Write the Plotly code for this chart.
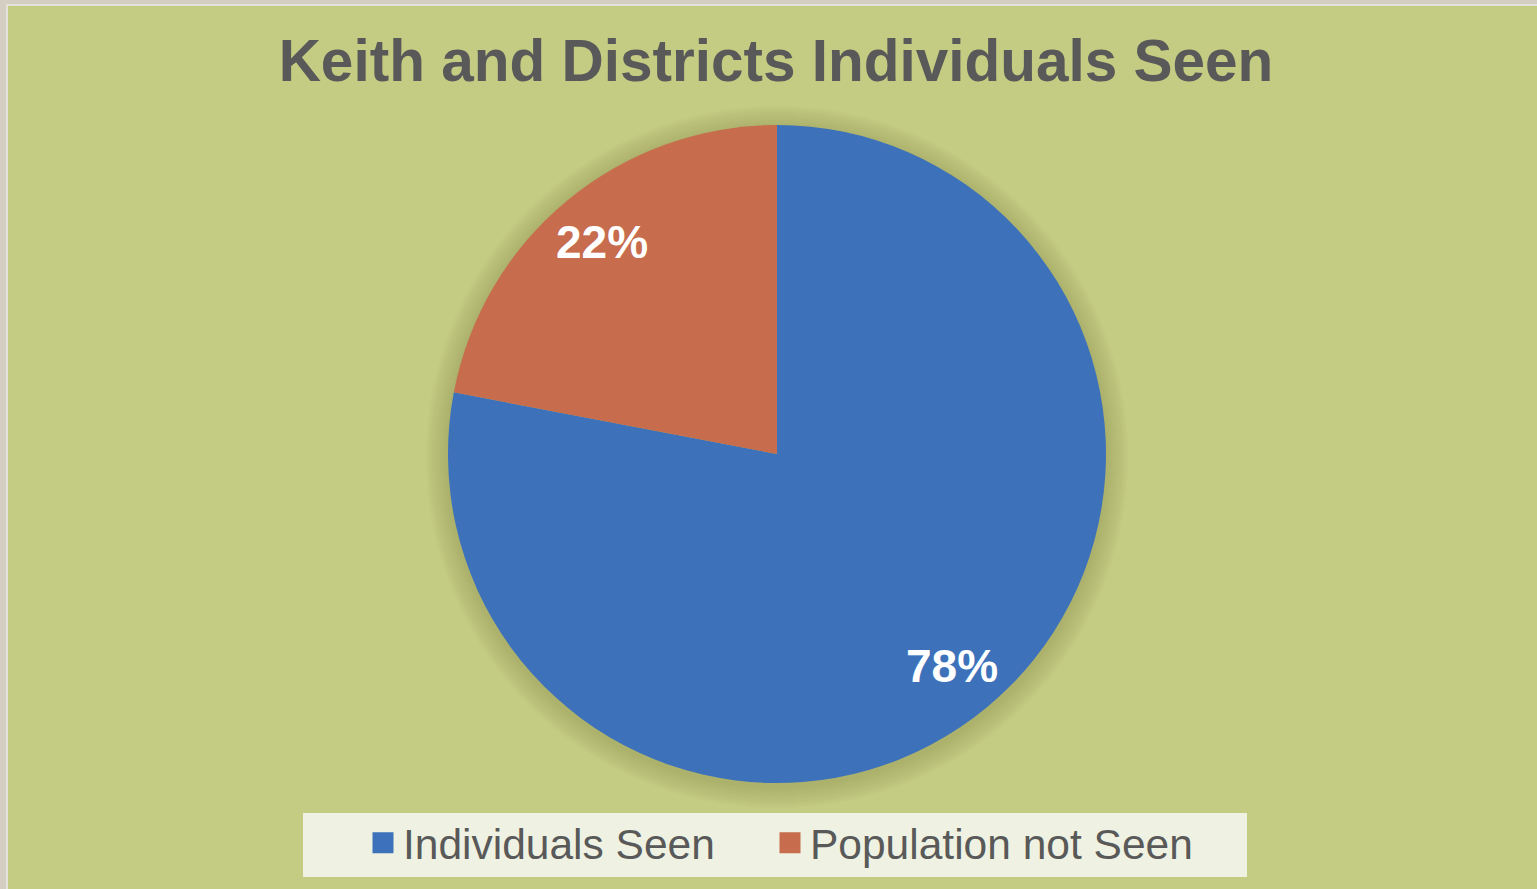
import math
import plotly.graph_objects as go

labels = ["Individuals Seen", "Population not Seen"]
values = [78, 22]
colors = ["#3d72bb", "#c76c4d"]
title_text = "Keith and Districts Individuals Seen"

W, H = 1537, 889
cx, cy, R = 777, 454, 329  # pie centre/radius in pixels

dom_x = [(cx - R) / W, (cx + R) / W]
dom_y = [1 - (cy + R) / H, 1 - (cy - R) / H]

fig = go.Figure()
fig.add_trace(go.Pie(
    labels=labels, values=values, sort=False, direction="clockwise", rotation=0,
    marker=dict(colors=colors, line=dict(width=0)),
    textinfo="none", hoverinfo="label+percent", showlegend=False,
    domain=dict(x=dom_x, y=dom_y),
))
# legend entries (square markers like the original), one legend per entry
legend_ids = ["legend", "legend2"]
for lab, col, lg in zip(labels, colors, legend_ids):
    fig.add_trace(go.Scatter(
        x=[None], y=[None], mode="markers", name=lab, legend=lg,
        marker=dict(symbol="square", size=16, color=col, line=dict(width=5, color=col)),
        showlegend=True, hoverinfo="skip",
    ))

# percentage labels placed at slice mid-angles
annotations = []
total = sum(values)
cum = 0
for v in values:
    frac_mid = (cum + v / 2) / total
    cum += v
    th = 2 * math.pi * frac_mid
    r = 0.836 * R
    px = cx + r * math.sin(th)
    py = cy - r * math.cos(th)
    annotations.append(dict(
        x=px / W, y=1 - py / H, xref="paper", yref="paper",
        text=f"<b>{round(100 * v / total)}%</b>", showarrow=False,
        font=dict(family="Liberation Sans, Arial", size=46, color="white"),
        xanchor="center", yanchor="middle",
    ))

shapes = [
    # light frame and green chart area
    dict(type="rect", xref="paper", yref="paper", x0=6 / W, x1=1.0, y0=0, y1=1 - 4 / H,
         fillcolor="#e4e1da", line=dict(width=0), layer="below"),
    dict(type="rect", xref="paper", yref="paper", x0=8 / W, x1=1.0, y0=0, y1=1 - 6 / H,
         fillcolor="#c4cb82", line=dict(width=0), layer="below"),
]
# soft shadow around the pie
for dr in range(22, 0, -2):
    shapes.append(dict(type="circle", xref="paper", yref="paper",
                       x0=(cx - R - dr) / W, x1=(cx + R + dr) / W,
                       y0=1 - (cy + 3 + R + dr) / H, y1=1 - (cy + 3 - R - dr) / H,
                       fillcolor="rgba(70,75,10,0.014)", line=dict(width=0), layer="below"))
# legend box
shapes.append(dict(type="rect", xref="paper", yref="paper", x0=303 / W, x1=1247 / W,
                   y0=1 - 877 / H, y1=1 - 813 / H, fillcolor="#eff2e2",
                   line=dict(width=0), layer="below"))

legend_font = dict(family="Liberation Sans, Arial", size=42.5, color="#595959")
fig.update_layout(
    width=W, height=H,
    margin=dict(l=0, r=0, t=0, b=0),
    paper_bgcolor="#d4cdc2",
    plot_bgcolor="rgba(0,0,0,0)",
    xaxis=dict(visible=False), yaxis=dict(visible=False),
    title=dict(text=f"<b>{title_text}</b>", x=776 / W, xanchor="center",
               y=1 - 61 / H, yanchor="middle", yref="paper",
               font=dict(family="Liberation Sans, Arial", size=58.5, color="#595959")),
    legend=dict(orientation="h", x=363 / W, xanchor="left", y=1 - 843 / H, yanchor="middle",
                bgcolor="rgba(0,0,0,0)", font=legend_font, itemwidth=30),
    legend2=dict(orientation="h", x=770 / W, xanchor="left", y=1 - 843 / H, yanchor="middle",
                 bgcolor="rgba(0,0,0,0)", font=legend_font, itemwidth=30),
    shapes=shapes,
    annotations=annotations,
)

fig.write_html("out.html", config={"displayModeBar": False},
               post_script="document.body.style.margin='0';")
